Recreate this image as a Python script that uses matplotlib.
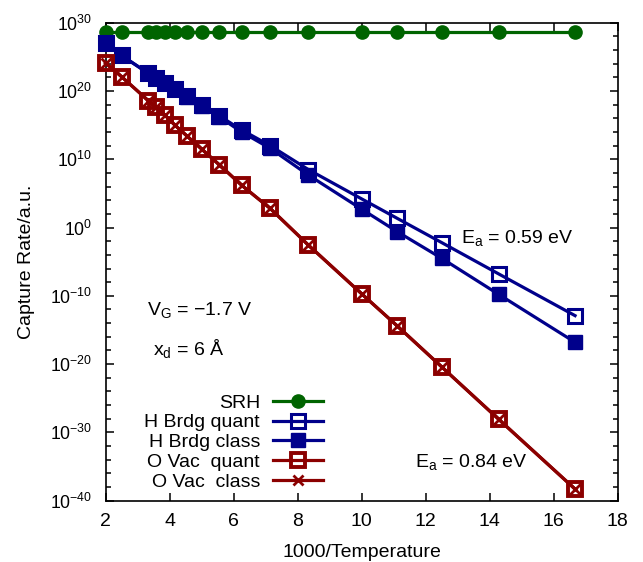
import numpy as np
import matplotlib
matplotlib.use("Agg")
import matplotlib.pyplot as plt
from matplotlib.ticker import FixedLocator, LogFormatterSciNotation, NullFormatter

plt.rcParams['font.family'] = ['Liberation Sans', 'DejaVu Sans']
plt.rcParams['mathtext.fontset'] = 'custom'
plt.rcParams['mathtext.rm'] = 'Liberation Sans'
plt.rcParams['mathtext.it'] = 'Liberation Sans:italic'
plt.rcParams['mathtext.default'] = 'regular'

# Temperatures (K) -> 1000/T
temperature = [500, 400, 300, 280, 260, 240, 220, 200, 180, 160, 140, 120, 100, 90, 80, 70, 60]
inv_t = [1000.0 / t for t in temperature]

# log10 of capture rates
srh_log = [28.6] * 17
h_quant_log = [27.0, 25.2, 22.6, 21.9, 21.1, 20.3, 19.2, 17.9, 16.35, 14.3, 12.0, 8.5, 4.2, 1.35, -2.2, -6.8, -12.9]
h_class_log = [27.0, 25.2, 22.6, 21.9, 21.1, 20.25, 19.1, 17.8, 16.2, 14.0, 11.6, 7.7, 2.7, -0.6, -4.5, -9.8, -16.8]
o_quant_log = [24.1, 22.1, 18.6, 17.7, 16.5, 15.0, 13.4, 11.5, 9.2, 6.2, 2.8, -2.55, -9.7, -14.4, -20.4, -28.1, -38.3]
o_class_log = [24.1, 22.1, 18.6, 17.7, 16.5, 15.0, 13.4, 11.5, 9.2, 6.2, 2.8, -2.55, -9.7, -14.4, -20.4, -28.1, -38.3]

labels = ['SRH', 'H Brdg quant', 'H Brdg class', 'O Vac  quant', 'O Vac  class']
x_ticks = [2, 4, 6, 8, 10, 12, 14, 16, 18]

green = '#006400'
blue = '#00008b'
red = '#8b0000'

FS = 14

fig = plt.figure(figsize=(6.43, 5.62), dpi=100)
ax = fig.add_axes([0.1641, 0.1091, 0.9607 - 0.1641, 0.9596 - 0.1091])

lw = 2.3
ax.plot(inv_t, 10.0 ** np.array(srh_log), color=green, lw=lw, marker='o', ms=9.5,
        mfc=green, mec=green, label=labels[0], clip_on=False, zorder=3)
ax.plot(inv_t, 10.0 ** np.array(h_quant_log), color=blue, lw=lw, marker='s', ms=10.5,
        mfc='none', mec=blue, mew=2.2, label=labels[1], clip_on=False, zorder=3)
ax.plot(inv_t, 10.0 ** np.array(h_class_log), color=blue, lw=lw, marker='s', ms=9.5,
        mfc=blue, mec=blue, label=labels[2], clip_on=False, zorder=3)
ax.plot(inv_t, 10.0 ** np.array(o_quant_log), color=red, lw=lw, marker='s', ms=10.5,
        mfc='none', mec=red, mew=2.8, label=labels[3], clip_on=False, zorder=3)
ax.plot(inv_t, 10.0 ** np.array(o_class_log), color=red, lw=lw, marker='x', ms=6.5,
        mec=red, mew=2.0, label=labels[4], clip_on=False, zorder=3)

ax.set_yscale('log')
ax.set_xlim(2, 18)
ax.set_ylim(1e-40, 1e30)
ax.xaxis.set_major_locator(FixedLocator(x_ticks))
ax.set_xticklabels([str(v) for v in x_ticks])
ax.yaxis.set_major_locator(FixedLocator(10.0 ** np.arange(-40, 31, 10)))
ax.yaxis.set_major_formatter(LogFormatterSciNotation())
minors = [10.0 ** e for e in range(-40, 31, 2) if e % 10 != 0]
ax.yaxis.set_minor_locator(FixedLocator(minors))
ax.yaxis.set_minor_formatter(NullFormatter())

ax.tick_params(which='both', direction='in', top=True, right=True, width=1.1)
ax.tick_params(which='major', length=6)
ax.tick_params(which='minor', length=3.3)
ax.tick_params(axis='x', which='major', pad=9, labelsize=FS)
ax.tick_params(axis='y', which='major', pad=9.5, labelsize=12.7)
for s in ax.spines.values():
    s.set_linewidth(1.2)

ax.set_xlabel('1000/Temperature', fontsize=FS, labelpad=10)
ax.set_ylabel('Capture Rate/a.u.', fontsize=FS, labelpad=11)

ax.text(0.0807, 0.3885, r'V$_G$ = −1.7 V', transform=ax.transAxes, fontsize=FS, ha='left', va='baseline')
ax.text(0.093, 0.305, r'x$_d$ = 6 Å', transform=ax.transAxes, fontsize=FS, ha='left', va='baseline')
ax.text(0.694, 0.540, r'E$_a$ = 0.59 eV', transform=ax.transAxes, fontsize=FS, ha='left', va='baseline')
ax.text(0.604, 0.0699, r'E$_a$ = 0.84 eV', transform=ax.transAxes, fontsize=FS, ha='left', va='baseline')

leg = ax.legend(loc='lower right', bbox_to_anchor=(0.425, 0.021), frameon=False, fontsize=FS,
                markerfirst=False, handlelength=2.6, handletextpad=0.65, labelspacing=0.11,
                numpoints=1, borderpad=0.0, borderaxespad=0.0)

fig.savefig('out.png', dpi=100)
